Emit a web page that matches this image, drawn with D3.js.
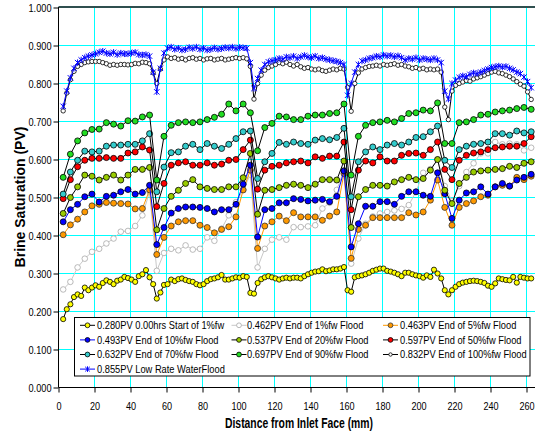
<!DOCTYPE html>
<html>
<head>
<meta charset="utf-8">
<script src="https://cdn.jsdelivr.net/npm/d3@7"></script>
<style>
body { margin: 0; background: #fff; }
svg { display: block; font-family: "Liberation Sans", Arial, sans-serif; }
</style>
</head>
<body>
<div id="chart"></div>
<script>
/* data section */

var series_names = [
	'0.280PV 0.00hrs Start of 1%fw',
	'0.462PV End of 1%fw Flood',
	'0.463PV End of 5%fw Flood',
	'0.493PV End of 10%fw Flood',
	'0.537PV End of 20%fw Flood',
	'0.597PV End of 50%fw Flood',
	'0.632PV End of 70%fw Flood',
	'0.697PV End of 90%fw Flood',
	'0.832PV End of 100%fw Flood',
	'0.855PV Low Rate WaterFlood'
];

// distance from inlet (mm), dense scans (2 mm) and coarse scans (4 mm)
var x_fine = [
	2.6, 4.6, 6.6, 8.6, 10.6, 12.6, 14.6, 16.6, 18.6, 20.6,
	22.6, 24.6, 26.6, 28.6, 30.6, 32.6, 34.6, 36.6, 38.6, 40.6,
	42.6, 44.6, 46.6, 48.6, 50.6, 52.6, 54.6, 56.6, 58.6, 60.6,
	62.6, 64.6, 66.6, 68.6, 70.6, 72.6, 74.6, 76.6, 78.6, 80.6,
	82.6, 84.6, 86.6, 88.6, 90.6, 92.6, 94.6, 96.6, 98.6, 100.6,
	102.6, 104.6, 106.6, 108.6, 110.6, 112.6, 114.6, 116.6, 118.6, 120.6,
	122.6, 124.6, 126.6, 128.6, 130.6, 132.6, 134.6, 136.6, 138.6, 140.6,
	142.6, 144.6, 146.6, 148.6, 150.6, 152.6, 154.6, 156.6, 158.6, 160.6,
	162.6, 164.6, 166.6, 168.6, 170.6, 172.6, 174.6, 176.6, 178.6, 180.6,
	182.6, 184.6, 186.6, 188.6, 190.6, 192.6, 194.6, 196.6, 198.6, 200.6,
	202.6, 204.6, 206.6, 208.6, 210.6, 212.6, 214.6, 216.6, 218.6, 220.6,
	222.6, 224.6, 226.6, 228.6, 230.6, 232.6, 234.6, 236.6, 238.6, 240.6,
	242.6, 244.6, 246.6, 248.6, 250.6, 252.6, 254.6, 256.6, 258.6, 260.6,
	262.6
];
var x_coarse = [
	2.6, 6.6, 10.6, 14.6, 18.6, 22.6, 26.6, 30.6, 34.6, 38.6,
	42.6, 46.6, 50.6, 54.6, 58.6, 62.6, 66.6, 70.6, 74.6, 78.6,
	82.6, 86.6, 90.6, 94.6, 98.6, 102.6, 106.6, 110.6, 114.6, 118.6,
	122.6, 126.6, 130.6, 134.6, 138.6, 142.6, 146.6, 150.6, 154.6, 158.6,
	162.6, 166.6, 170.6, 174.6, 178.6, 182.6, 186.6, 190.6, 194.6, 198.6,
	202.6, 206.6, 210.6, 214.6, 218.6, 222.6, 226.6, 230.6, 234.6, 238.6,
	242.6, 246.6, 250.6, 254.6, 258.6, 262.6
];

var pv_0280 = [
	0.180, 0.206, 0.219, 0.238, 0.245, 0.241, 0.263, 0.256, 0.263, 0.269,
	0.265, 0.275, 0.282, 0.278, 0.272, 0.281, 0.284, 0.291, 0.288, 0.284,
	0.278, 0.293, 0.298, 0.309, 0.290, 0.272, 0.234,
	0.250, 0.270, 0.272, 0.284, 0.280, 0.285, 0.287, 0.283, 0.280, 0.278,
	0.272, 0.269, 0.272, 0.280, 0.285, 0.287, 0.290, 0.296, 0.284, 0.284,
	0.287, 0.290, 0.289, 0.293, 0.291, 0.249, 0.247,
	0.275, 0.285, 0.290, 0.293, 0.290, 0.287, 0.284, 0.287, 0.289, 0.287,
	0.289, 0.289, 0.287, 0.293, 0.298, 0.302, 0.305, 0.306, 0.311, 0.306,
	0.308, 0.311, 0.311, 0.313, 0.317, 0.256, 0.252,
	0.290, 0.293, 0.295, 0.298, 0.302, 0.307, 0.310, 0.313, 0.313, 0.307,
	0.305, 0.302, 0.298, 0.293, 0.302, 0.302, 0.298, 0.295, 0.293, 0.289,
	0.295, 0.291, 0.310, 0.300, 0.287, 0.256, 0.245, 0.256, 0.265,
	0.272, 0.276, 0.278, 0.280, 0.281, 0.280, 0.278, 0.275, 0.268, 0.265,
	0.274, 0.287, 0.285, 0.283, 0.282, 0.291, 0.276, 0.291, 0.289, 0.287,
	0.287
];
var pv_0462 = [
	0.258, 0.278, 0.316, 0.339, 0.357, 0.365, 0.379, 0.392, 0.410, 0.412,
	0.425, 0.453, 0.515, 0.307, 0.354, 0.365, 0.361, 0.374, 0.363, 0.365,
	0.395, 0.386, 0.418, 0.453, 0.488, 0.520, 0.560, 0.316, 0.365, 0.389,
	0.395, 0.389, 0.422, 0.422, 0.424, 0.427, 0.471, 0.486, 0.520, 0.572,
	0.326, 0.392, 0.431, 0.450, 0.458, 0.462, 0.466, 0.470, 0.480, 0.515,
	0.565, 0.575, 0.600, 0.530, 0.490, 0.530, 0.567, 0.590, 0.616, 0.616,
	0.646, 0.640, 0.642, 0.640, 0.624, 0.631
];
var pv_0463 = [
	0.402, 0.428, 0.443, 0.462, 0.478, 0.482, 0.487, 0.485, 0.484, 0.483,
	0.470, 0.471, 0.520, 0.350, 0.395, 0.425, 0.436, 0.439, 0.439, 0.427,
	0.421, 0.407, 0.416, 0.423, 0.449, 0.520, 0.572, 0.366, 0.425, 0.436,
	0.451, 0.439, 0.460, 0.449, 0.449, 0.449, 0.440, 0.451, 0.462, 0.563,
	0.340, 0.416, 0.427, 0.447, 0.447, 0.447, 0.447, 0.447, 0.460, 0.454,
	0.462, 0.493, 0.546, 0.474, 0.427, 0.474, 0.484, 0.491, 0.502, 0.506,
	0.528, 0.532, 0.530, 0.553, 0.547, 0.556
];
var pv_0493 = [
	0.436, 0.468, 0.482, 0.502, 0.509, 0.488, 0.503, 0.506, 0.515, 0.521,
	0.509, 0.513, 0.532, 0.376, 0.421, 0.459, 0.471, 0.475, 0.475, 0.474,
	0.471, 0.462, 0.468, 0.468, 0.482, 0.535, 0.585, 0.396, 0.468, 0.471,
	0.486, 0.486, 0.497, 0.495, 0.491, 0.493, 0.495, 0.489, 0.503, 0.570,
	0.370, 0.431, 0.477, 0.477, 0.489, 0.489, 0.482, 0.503, 0.515, 0.515,
	0.506, 0.503, 0.565, 0.510, 0.445, 0.493, 0.512, 0.515, 0.528, 0.509,
	0.528, 0.537, 0.530, 0.546, 0.553, 0.561
];
var pv_0537 = [
	0.458, 0.500, 0.528, 0.559, 0.556, 0.546, 0.553, 0.559, 0.546, 0.559,
	0.574, 0.574, 0.579, 0.415, 0.471, 0.503, 0.519, 0.537, 0.547, 0.528,
	0.524, 0.521, 0.521, 0.528, 0.528, 0.552, 0.616, 0.456, 0.519, 0.521,
	0.526, 0.532, 0.535, 0.532, 0.526, 0.535, 0.547, 0.547, 0.546, 0.596,
	0.421, 0.502, 0.521, 0.532, 0.532, 0.530, 0.541, 0.547, 0.553, 0.547,
	0.550, 0.572, 0.600, 0.519, 0.484, 0.537, 0.553, 0.567, 0.570, 0.572,
	0.574, 0.576, 0.582, 0.579, 0.590, 0.594
];
var pv_0597 = [
	0.497, 0.547, 0.581, 0.598, 0.603, 0.603, 0.605, 0.603, 0.603, 0.617,
	0.620, 0.633, 0.625, 0.476, 0.537, 0.585, 0.591, 0.594, 0.585, 0.585,
	0.591, 0.585, 0.588, 0.598, 0.600, 0.626, 0.651, 0.522, 0.572, 0.582,
	0.585, 0.591, 0.594, 0.596, 0.591, 0.607, 0.603, 0.609, 0.609, 0.646,
	0.468, 0.572, 0.596, 0.591, 0.607, 0.596, 0.596, 0.611, 0.616, 0.617,
	0.611, 0.626, 0.646, 0.574, 0.547, 0.598, 0.611, 0.617, 0.620, 0.626,
	0.631, 0.633, 0.635, 0.635, 0.642, 0.660
];
var pv_0632 = [
	0.509, 0.567, 0.598, 0.622, 0.620, 0.622, 0.635, 0.638, 0.638, 0.640,
	0.640, 0.649, 0.668, 0.515, 0.580, 0.618, 0.620, 0.635, 0.640, 0.626,
	0.642, 0.635, 0.629, 0.640, 0.655, 0.673, 0.675, 0.550, 0.594, 0.616,
	0.645, 0.640, 0.646, 0.642, 0.640, 0.651, 0.655, 0.652, 0.658, 0.682,
	0.502, 0.594, 0.620, 0.633, 0.626, 0.638, 0.642, 0.638, 0.646, 0.658,
	0.660, 0.673, 0.688, 0.598, 0.579, 0.626, 0.635, 0.640, 0.642, 0.646,
	0.668, 0.668, 0.664, 0.675, 0.670, 0.673
];
var pv_0697 = [
	0.553, 0.614, 0.649, 0.670, 0.679, 0.680, 0.697, 0.693, 0.688, 0.702,
	0.701, 0.712, 0.717, 0.546, 0.661, 0.690, 0.697, 0.699, 0.697, 0.699,
	0.705, 0.711, 0.719, 0.746, 0.728, 0.746, 0.723, 0.623, 0.684, 0.695,
	0.714, 0.712, 0.705, 0.705, 0.714, 0.717, 0.717, 0.721, 0.723, 0.746,
	0.559, 0.661, 0.690, 0.697, 0.699, 0.703, 0.699, 0.708, 0.721, 0.723,
	0.730, 0.728, 0.749, 0.642, 0.642, 0.697, 0.699, 0.705, 0.717, 0.719,
	0.725, 0.728, 0.730, 0.734, 0.737, 0.732
];
var pv_0832 = [
	0.728, 0.775, 0.810, 0.832, 0.845, 0.850, 0.855, 0.857, 0.858, 0.858,
	0.858, 0.855, 0.852, 0.848, 0.850, 0.848, 0.850, 0.850, 0.849, 0.850,
	0.853, 0.852, 0.856, 0.855, 0.852, 0.828, 0.800,
	0.838, 0.862, 0.870, 0.866, 0.868, 0.864, 0.866, 0.862, 0.866, 0.868,
	0.864, 0.866, 0.862, 0.865, 0.866, 0.862, 0.864, 0.866, 0.862, 0.864,
	0.866, 0.868, 0.866, 0.868, 0.865, 0.845, 0.759,
	0.800, 0.822, 0.835, 0.842, 0.846, 0.850, 0.855, 0.852, 0.856, 0.850,
	0.846, 0.850, 0.844, 0.840, 0.842, 0.838, 0.836, 0.838, 0.834, 0.832,
	0.835, 0.838, 0.836, 0.840, 0.838, 0.790, 0.727,
	0.800, 0.828, 0.838, 0.842, 0.845, 0.846, 0.848, 0.846, 0.850, 0.848,
	0.850, 0.852, 0.848, 0.850, 0.846, 0.844, 0.840, 0.842, 0.838, 0.840,
	0.836, 0.838, 0.836, 0.838, 0.830, 0.738, 0.705,
	0.780, 0.795, 0.800, 0.804, 0.808, 0.806, 0.812, 0.815, 0.818, 0.822,
	0.826, 0.830, 0.832, 0.828, 0.826, 0.822, 0.818, 0.812, 0.805, 0.798,
	0.793, 0.778, 0.758
];
var pv_0855 = [
	0.740, 0.780, 0.815, 0.840, 0.855, 0.862, 0.868, 0.872, 0.875, 0.878,
	0.882, 0.885, 0.880, 0.878, 0.882, 0.876, 0.880, 0.878, 0.878, 0.880,
	0.882, 0.876, 0.875, 0.876, 0.872, 0.830, 0.778,
	0.840, 0.880, 0.893, 0.896, 0.890, 0.893, 0.888, 0.890, 0.895, 0.892,
	0.896, 0.890, 0.893, 0.888, 0.890, 0.894, 0.890, 0.892, 0.895, 0.893,
	0.896, 0.892, 0.895, 0.894, 0.893, 0.855, 0.787,
	0.813, 0.835, 0.850, 0.857, 0.860, 0.862, 0.866, 0.864, 0.870, 0.868,
	0.872, 0.866, 0.870, 0.874, 0.870, 0.868, 0.872, 0.866, 0.868, 0.864,
	0.862, 0.860, 0.858, 0.855, 0.850, 0.769,
	0.800, 0.830, 0.850, 0.859, 0.862, 0.866, 0.868, 0.872, 0.870, 0.875,
	0.872, 0.874, 0.870, 0.873, 0.868, 0.862, 0.866, 0.864, 0.868, 0.862,
	0.866, 0.864, 0.862, 0.866, 0.862, 0.855, 0.780, 0.759,
	0.800, 0.809, 0.816, 0.820, 0.818, 0.824, 0.828, 0.826, 0.830, 0.834,
	0.838, 0.842, 0.844, 0.846, 0.843, 0.845, 0.840, 0.836, 0.830, 0.826,
	0.817, 0.805, 0.789
];

var x_ticks = [0, 20, 40, 60, 80, 100, 120, 140, 160, 180, 200, 220, 240, 260];
var y_ticks = [0, 0.1, 0.2, 0.3, 0.4, 0.5, 0.6, 0.7, 0.8, 0.9, 1.0];

/* chart section */

var width = 535;
var height = 435;

var svg = d3.select('#chart').append('svg')
	.attr('width', width)
	.attr('height', height);

var xScale = d3.scaleLinear().domain([0, 260]).range([58.5, 526.5]);
var yScale = d3.scaleLinear().domain([0, 1]).range([387.5, 7.5]);

// squeeze text horizontally, the original renders narrow
function condense(sel, k) {
	sel.each(function () {
		var w = this.getComputedTextLength();
		d3.select(this).attr('textLength', w * k).attr('lengthAdjust', 'spacingAndGlyphs');
	});
}

// grid
var grid = svg.append('g').attr('shape-rendering', 'crispEdges');
grid.selectAll('.vgrid')
	.data(x_ticks.slice(1))
	.enter().append('line')
	.attr('x1', function (d) { return xScale(d); })
	.attr('x2', function (d) { return xScale(d); })
	.attr('y1', yScale(0))
	.attr('y2', yScale(1))
	.attr('stroke', '#00FFFF');
grid.selectAll('.hgrid')
	.data(y_ticks.slice(1, -1))
	.enter().append('line')
	.attr('x1', xScale(0))
	.attr('x2', width)
	.attr('y1', function (d) { return yScale(d); })
	.attr('y2', function (d) { return yScale(d); })
	.attr('stroke', '#00FFFF');

// top frame
svg.append('line')
	.attr('x1', xScale(0)).attr('x2', width)
	.attr('y1', 7).attr('y2', 7)
	.attr('stroke', '#2F4F4F').attr('stroke-width', 2);

// axes
var xAxis = d3.axisBottom(xScale).tickValues(x_ticks).tickSize(5).tickPadding(9)
	.tickFormat(d3.format('d'));
var gx = svg.append('g')
	.attr('transform', 'translate(0,' + yScale(0) + ')')
	.call(xAxis);
gx.select('.domain').remove();
gx.selectAll('text').attr('font-size', '11.5px').attr('fill', '#000')
	.attr('font-family', '"Liberation Sans", Arial, sans-serif');
condense(gx.selectAll('text'), 0.79);

var yAxis = d3.axisLeft(yScale).tickValues(y_ticks).tickSize(5).tickPadding(2)
	.tickFormat(d3.format('.3f'));
var gy = svg.append('g')
	.attr('transform', 'translate(' + xScale(0) + ',0)')
	.call(yAxis);
gy.select('.domain').remove();
gy.selectAll('text').attr('font-size', '11.5px').attr('fill', '#000')
	.attr('font-family', '"Liberation Sans", Arial, sans-serif');
condense(gy.selectAll('text'), 0.8);

svg.append('line')
	.attr('x1', xScale(0)).attr('x2', xScale(0))
	.attr('y1', 7).attr('y2', yScale(0))
	.attr('stroke', '#000');
svg.append('line')
	.attr('x1', xScale(0)).attr('x2', width)
	.attr('y1', yScale(0)).attr('y2', yScale(0))
	.attr('stroke', '#000');

// axis titles
var xTitle = svg.append('text')
	.text('Distance from Inlet Face (mm)')
	.attr('x', 299)
	.attr('y', 428)
	.attr('text-anchor', 'middle')
	.attr('font-weight', 'bold')
	.attr('font-size', '14px');
xTitle.attr('textLength', 148).attr('lengthAdjust', 'spacingAndGlyphs');

svg.append('text')
	.text('Brine Saturation (PV)')
	.attr('transform', 'translate(25,197) rotate(-90)')
	.attr('text-anchor', 'middle')
	.attr('font-weight', 'bold')
	.attr('font-size', '14px');

// series styles (built from the names, in legend order)
var styles = [
	{ xs: x_fine, ys: pv_0280, line: '#000', mark: 'circle', r: 2.6, fill: '#FFFF00', stroke: '#000' },
	{ xs: x_coarse, ys: pv_0462, line: '#C8C8C8', mark: 'circle', r: 2.8, fill: '#fff', stroke: '#A8A8A8' },
	{ xs: x_coarse, ys: pv_0463, line: '#FF9900', mark: 'circle', r: 3, fill: '#FF9900', stroke: '#333' },
	{ xs: x_coarse, ys: pv_0493, line: '#0000FF', mark: 'circle', r: 3, fill: '#0000FF', stroke: '#000' },
	{ xs: x_coarse, ys: pv_0537, line: '#000', mark: 'circle', r: 3, fill: '#99CC00', stroke: '#000' },
	{ xs: x_coarse, ys: pv_0597, line: '#000', mark: 'circle', r: 3, fill: '#FF0000', stroke: '#000' },
	{ xs: x_coarse, ys: pv_0632, line: '#000', mark: 'circle', r: 3, fill: '#33CCCC', stroke: '#000' },
	{ xs: x_coarse, ys: pv_0697, line: '#000', mark: 'circle', r: 3, fill: '#22DD22', stroke: '#000' },
	{ xs: x_fine, ys: pv_0832, line: '#000', mark: 'circle', r: 2.2, fill: '#fff', stroke: '#000' },
	{ xs: x_fine, ys: pv_0855, line: '#0000FF', mark: 'star', r: 2.7, fill: 'none', stroke: '#0000FF' }
];

function drawMark(g, s, cx, cy, r) {
	if (s.mark == 'circle') {
		g.append('circle')
			.attr('cx', cx).attr('cy', cy).attr('r', r)
			.attr('fill', s.fill).attr('stroke', s.stroke).attr('stroke-width', 0.8);
	} else {
		g.append('path')
			.attr('d', 'M' + (cx - r) + ',' + (cy - r) + 'L' + (cx + r) + ',' + (cy + r) +
				'M' + (cx - r) + ',' + (cy + r) + 'L' + (cx + r) + ',' + (cy - r) +
				'M' + cx + ',' + (cy - r - 0.5) + 'L' + cx + ',' + (cy + r + 0.5))
			.attr('stroke', s.stroke).attr('stroke-width', 1).attr('fill', 'none');
	}
}

var plot = svg.append('g');
styles.forEach(function (s) {
	var pts = s.ys.map(function (v, i) { return [s.xs[i], v]; });
	var line = d3.line()
		.x(function (d) { return xScale(d[0]); })
		.y(function (d) { return yScale(d[1]); });
	var g = plot.append('g');
	g.append('path')
		.attr('d', line(pts))
		.attr('fill', 'none')
		.attr('stroke', s.line)
		.attr('stroke-width', 1);
	pts.forEach(function (d) {
		drawMark(g, s, xScale(d[0]), yScale(d[1]), s.r);
	});
});

// legend
var legend = svg.append('g');
legend.append('rect')
	.attr('x', 74.5).attr('y', 317.5)
	.attr('width', 455.5).attr('height', 58.5)
	.attr('fill', '#fff').attr('stroke', '#000');

var col_line = [80, 231.5, 383];
var col_text = [97, 247, 400];
series_names.forEach(function (name, i) {
	var s = styles[i];
	var col = i % 3;
	var row = Math.floor(i / 3);
	var cy = 325.3 + row * 14.6;
	legend.append('line')
		.attr('x1', col_line[col]).attr('x2', col_line[col] + 15)
		.attr('y1', cy).attr('y2', cy)
		.attr('stroke', s.line);
	drawMark(legend, s, col_line[col] + 7.5, cy, s.mark == 'star' ? 2.3 : Math.min(s.r, 2.4) - (i == 8 ? 0.5 : 0));
	var t = legend.append('text')
		.text(name)
		.attr('x', col_text[col])
		.attr('y', cy + 3.8)
		.attr('font-size', '10.7px');
	condense(t, 0.87);
});
</script>
</body>
</html>
